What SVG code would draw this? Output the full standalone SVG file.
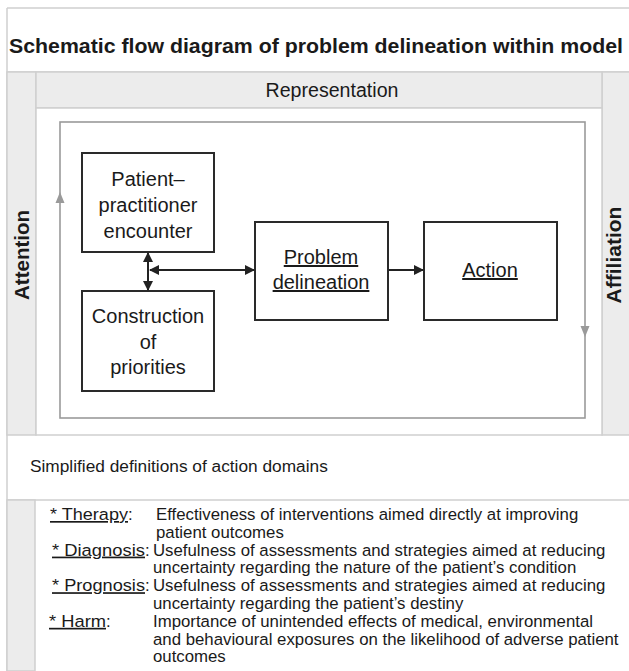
<svg xmlns="http://www.w3.org/2000/svg" width="629" height="671" viewBox="0 0 629 671">
<defs>
<style>
.band{fill:#ececec;stroke:#cfcfcf;stroke-width:1.5}
.line{stroke:#cfcfcf;stroke-width:1.5;fill:none}
.box{fill:#fff;stroke:#2a2a2a;stroke-width:2}
.loop{fill:none;stroke:#9a9a9a;stroke-width:1.6}
.conn{stroke:#222;stroke-width:2;fill:none}
.t{font-family:"Liberation Sans",Arial,sans-serif;fill:#1a1a1a}
.node{font-size:20px;text-anchor:middle}
.def{font-size:16.8px}
</style>
<marker id="ah" viewBox="0 0 10 10" refX="9" refY="5" markerWidth="5" markerHeight="5" orient="auto-start-reverse" markerUnits="strokeWidth">
<path d="M0,0 L10,5 L0,10 z" fill="#222"/>
</marker>
</defs>
<rect x="0" y="0" width="629" height="671" fill="#fff"/>
<!-- title band -->
<line class="line" x1="7" y1="8" x2="629" y2="8"/>
<line class="line" x1="7" y1="8" x2="7" y2="671"/>
<text class="t" x="9" y="53" font-size="21" font-weight="bold" textLength="614" lengthAdjust="spacingAndGlyphs">Schematic flow diagram of problem delineation within model</text>
<line class="line" x1="7" y1="72" x2="629" y2="72"/>
<!-- side columns and header -->
<g id="attention">
<rect class="band" x="7" y="72" width="29" height="363"/>
<text class="t" transform="translate(29,255) rotate(-90)" font-size="20.5" font-weight="bold" text-anchor="middle">Attention</text>
</g>
<g id="affiliation">
<rect class="band" x="602" y="72" width="30" height="363"/>
<text class="t" transform="translate(621,255) rotate(-90)" font-size="21" font-weight="bold" text-anchor="middle">Affiliation</text>
</g>
<g id="representation">
<rect class="band" x="36" y="72" width="566" height="36" fill="#efefef"/>
<text class="t" x="332" y="97" font-size="19.6" text-anchor="middle">Representation</text>
</g>
<rect x="36" y="108" width="566" height="327" fill="#fff" stroke="#cfcfcf" stroke-width="1.5"/>
<!-- loop -->
<g id="loop">
<rect class="loop" x="60" y="122" width="525" height="296"/>
<path d="M55.5,203 L60,192 L64.5,203 z" fill="#9a9a9a"/>
<path d="M580.5,326 L585,337 L589.5,326 z" fill="#9a9a9a"/>
</g>
<!-- nodes -->
<g id="encounter">
<rect class="box" x="82" y="153" width="132" height="99"/>
<text class="t node" x="148" y="186">Patient–</text>
<text class="t node" x="148" y="212">practitioner</text>
<text class="t node" x="148" y="238">encounter</text>
</g>
<g id="priorities">
<rect class="box" x="82" y="291" width="132" height="100"/>
<text class="t node" x="148" y="323">Construction</text>
<text class="t node" x="148" y="349">of</text>
<text class="t node" x="148" y="374">priorities</text>
</g>
<g id="problem">
<rect class="box" x="255" y="222" width="133" height="98"/>
<text class="t node" x="321" y="264" text-decoration="underline">Problem</text>
<text class="t node" x="321" y="289" text-decoration="underline">delineation</text>
</g>
<g id="action">
<rect class="box" x="424" y="222" width="133" height="98"/>
<text class="t node" x="490" y="277" text-decoration="underline">Action</text>
</g>
<!-- connectors -->
<g id="connectors">
<line class="conn" x1="148" y1="253" x2="148" y2="290" marker-start="url(#ah)" marker-end="url(#ah)"/>
<line class="conn" x1="150" y1="270" x2="254" y2="270" marker-start="url(#ah)" marker-end="url(#ah)"/>
<line class="conn" x1="389" y1="270" x2="423" y2="270" marker-end="url(#ah)"/>
</g>
<!-- definitions -->
<text class="t" x="30" y="472" font-size="17.3">Simplified definitions of action domains</text>
<line class="line" x1="7" y1="500" x2="629" y2="500"/>
<rect x="7" y="500" width="28" height="171" fill="#ececec" stroke="#cfcfcf" stroke-width="1.5"/>
<g id="definitions" class="t def">
<text x="50" y="520" text-decoration="underline" textLength="78" lengthAdjust="spacingAndGlyphs">* Therapy</text><text x="128" y="520">:</text>
<text x="156" y="520">Effectiveness of interventions aimed directly at improving</text>
<text x="156" y="537.8">patient outcomes</text>
<text x="52" y="555.6" text-decoration="underline" textLength="93" lengthAdjust="spacingAndGlyphs">* Diagnosis</text><text x="145" y="555.6">:</text>
<text x="153" y="555.6">Usefulness of assessments and strategies aimed at reducing</text>
<text x="153" y="573.4">uncertainty regarding the nature of the patient’s condition</text>
<text x="52" y="591.2" text-decoration="underline" textLength="93" lengthAdjust="spacingAndGlyphs">* Prognosis</text><text x="145" y="591.2">:</text>
<text x="153" y="591.2">Usefulness of assessments and strategies aimed at reducing</text>
<text x="153" y="609">uncertainty regarding the patient’s destiny</text>
<text x="49" y="626.8" text-decoration="underline" textLength="57" lengthAdjust="spacingAndGlyphs">* Harm</text><text x="106" y="626.8">:</text>
<text x="153" y="626.8">Importance of unintended effects of medical, environmental</text>
<text x="153" y="644.6">and behavioural exposures on the likelihood of adverse patient</text>
<text x="153" y="662.4">outcomes</text>
</g>
</svg>
